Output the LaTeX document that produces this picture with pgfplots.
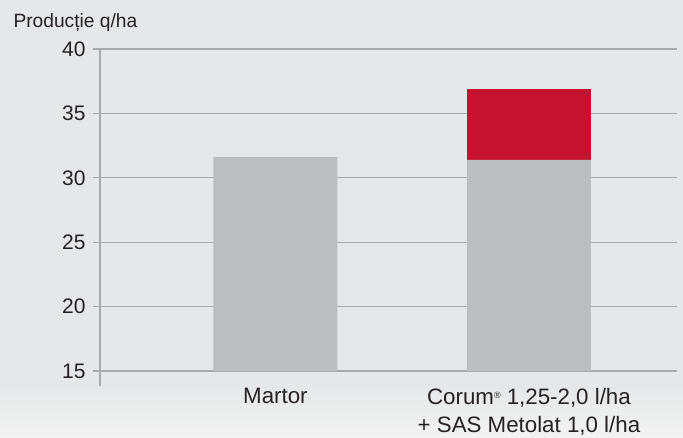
\documentclass[border=0pt]{standalone}
\usepackage{fontspec}
\setmainfont{Liberation Sans}
\usepackage{pgfplots}
\pgfplotsset{compat=1.18}
\definecolor{bg}{HTML}{E6E7E8}
\definecolor{bgl}{HTML}{F3F3F3}
\definecolor{barg}{HTML}{BCBDBF}
\definecolor{barr}{HTML}{C41230}
\definecolor{gridc}{HTML}{A7A9AB}
\definecolor{txt}{HTML}{262223}
\begin{document}
\begin{tikzpicture}
\fill[bg] (0,0) rectangle (683pt,437pt);
\shade[top color=bg,bottom color=bgl] (0,0) rectangle (683pt,52pt);
\useasboundingbox (0,0) rectangle (683pt,437pt);
\node[anchor=base west,inner sep=0pt,font=\fontsize{19.2}{23}\selectfont,text=txt] at (13.3pt,409.3pt) {Producție q/ha};
\begin{axis}[
 at={(100pt,66pt)}, anchor=south west,
 scale only axis, width=577pt, height=322pt,
 xmin=-0.692, xmax=1.584, ymin=15, ymax=40,
 ybar stacked, bar width=124pt,
 axis y line*=left, axis x line*=bottom,
 x axis line style={draw=none},
 y axis line style={-, draw=gridc, line width=1.2pt, shorten <=-15pt},
 ytick={15,20,25,30,35,40},
 ymajorgrids, grid style={gridc, line width=1.2pt},
 xtick={0,1},
 xticklabels={Martor, {Corum{\fontsize{9}{9}\selectfont\raisebox{6pt}{®}} 1,25-2,0 l/ha\\+ SAS Metolat 1,0 l/ha}},
 xticklabel style={align=center, font=\fontsize{22.3}{28.3}\selectfont, text=txt, yshift=-7pt},
 xtick style={draw=none},
 ytick style={draw=gridc, line width=1.2pt},
 tick align=outside, major tick length=7pt,
 yticklabel style={font=\fontsize{21}{25}\selectfont, text=txt, xshift=-4pt},
 /pgf/number format/assume math mode=true,
]
\addplot[fill=barg, draw=none] coordinates {(0,31.6) (1,31.4)};
\addplot[fill=barr, draw=none] coordinates {(0,0) (1,5.5)};
\end{axis}
\end{tikzpicture}
\end{document}
